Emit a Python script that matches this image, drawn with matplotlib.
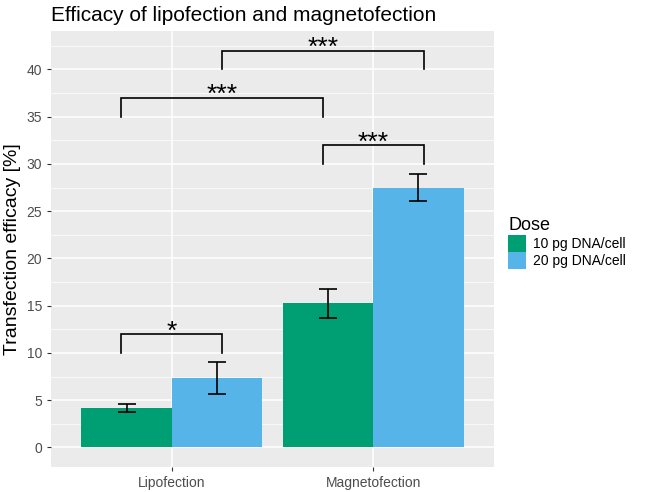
import numpy as np
import matplotlib
matplotlib.use('Agg')
import matplotlib.pyplot as plt
from matplotlib.ticker import MultipleLocator

plt.rcParams['font.family'] = ['Liberation Sans', 'DejaVu Sans']

methods = ['Lipofection', 'Magnetofection']
doses = ['10 pg DNA/cell', '20 pg DNA/cell']
means_10 = [4.2, 15.25]
means_20 = [7.35, 27.5]
err_10 = [0.42, 1.5]
err_20 = [1.72, 1.45]
# brackets: (x1, x2, leg bottom, top, label)
brackets = [(0.75, 1.25, 10.0, 12.0, '*'),
            (1.75, 2.25, 30.0, 32.0, '***'),
            (0.75, 1.75, 35.0, 37.0, '***'),
            (1.25, 2.25, 40.0, 42.0, '***')]
colors = ['#009E73', '#56B4E9']

fig = plt.figure(figsize=(6.45, 4.92), dpi=100, facecolor='white')
ax = fig.add_axes([51/645, 1-467.3/492, 443/645, (467.3-30.7)/492])
ax.set_facecolor('#EBEBEB')

x = np.arange(1, len(methods)+1)
w = 0.45
for i, (m, e) in enumerate([(means_10, err_10), (means_20, err_20)]):
    pos = x + (i-0.5)*w
    ax.bar(pos, m, width=w, color=colors[i], label=doses[i], zorder=3)
    ax.errorbar(pos, m, yerr=e, fmt='none', ecolor='black', elinewidth=1.2,
                capsize=6.5, capthick=1.2, zorder=4)

for x1, x2, y0, y1, lab in brackets:
    ax.plot([x1, x1, x2, x2], [y0, y1, y1, y0], color='black', lw=1.2, zorder=5,
            solid_joinstyle='miter')
    ax.text((x1+x2)/2, y1-1.0, lab, ha='center', va='bottom', fontsize=19, zorder=6)

ax.set_xlim(0.4, 2.6)
ax.set_ylim(-2.1, 44.1)
ax.yaxis.set_minor_locator(MultipleLocator(2.5))
ax.set_yticks(np.arange(0, 41, 5))
ax.set_xticks(x)
ax.set_xticklabels(methods)
ax.grid(which='major', color='white', lw=1.1, zorder=0)
ax.grid(which='minor', axis='y', color='white', lw=0.5, zorder=0)
ax.set_axisbelow(True)
for s in ax.spines.values():
    s.set_visible(False)
ax.tick_params(which='major', length=3, color='#333333', labelcolor='#4D4D4D',
               labelsize=10, width=0.8)
ax.tick_params(which='minor', length=0)
ax.set_ylabel('Transfection efficacy [%]', fontsize=14, labelpad=4)
ax.set_title('Efficacy of lipofection and magnetofection', fontsize=15,
             loc='left', pad=7)

leg = ax.legend(loc='upper left', bbox_to_anchor=(1.02, 0.585), frameon=False,
                title='Dose', fontsize=10, handlelength=1.3, handleheight=1.45,
                handletextpad=0.5, labelspacing=0.05, borderaxespad=0)
leg.get_title().set_fontsize(13)
leg._legend_box.align = 'left'

fig.savefig('out.png', dpi=100)
